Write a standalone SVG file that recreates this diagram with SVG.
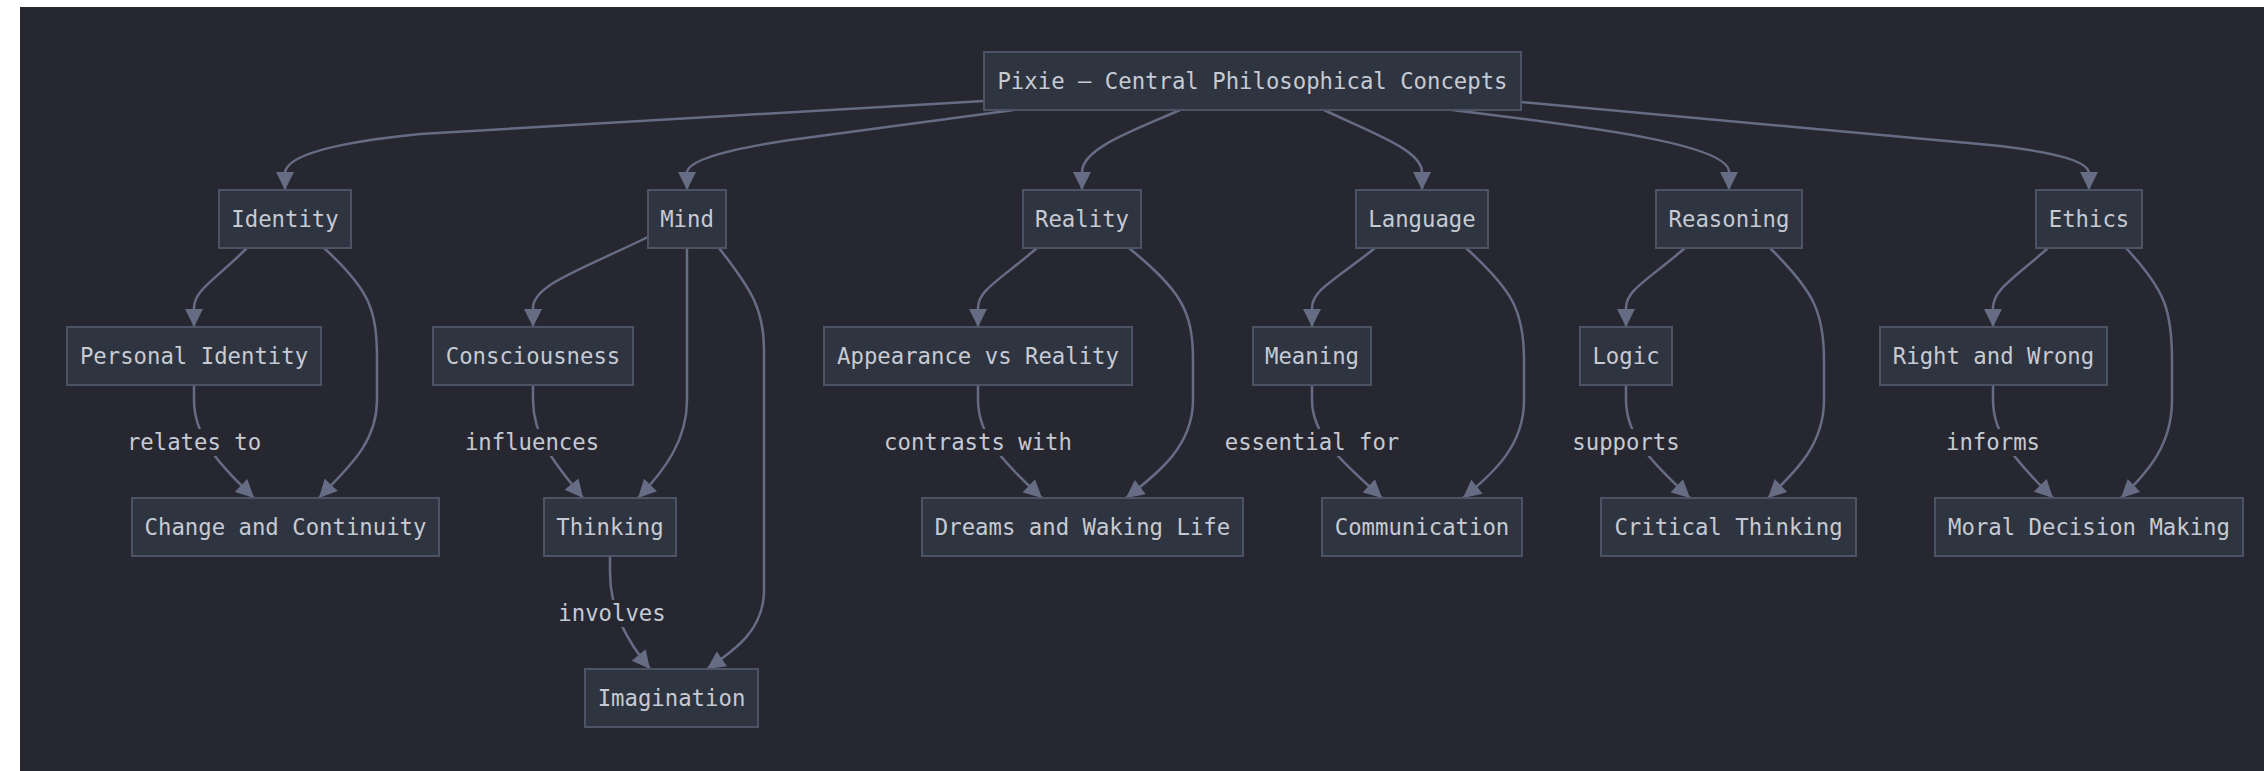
<svg xmlns="http://www.w3.org/2000/svg" width="2264" height="771" viewBox="0 0 2264 771">
<style>
.bg{fill:#272731}
.node rect{fill:#2f3441;stroke:#4c5364;stroke-width:2}
.node text,.lbl text{font-family:"DejaVu Sans Mono",monospace;font-size:22.3px;fill:#c6cad3;text-anchor:middle;dominant-baseline:central}
.edge{fill:none;stroke:#656c84;stroke-width:2.5}
.lbl rect{fill:#272731}
</style>
<defs>
<marker id="ah" viewBox="0 0 10 10" refX="10" refY="5" markerUnits="userSpaceOnUse" markerWidth="19" markerHeight="18" orient="auto">
<path d="M0,0 L10,5 L0,10 z" fill="#656c84"/>
</marker>
</defs>
<rect x="0" y="0" width="2264" height="771" fill="#ffffff"/>
<rect class="bg" x="20" y="7" width="2244" height="764"/>

<g id="connectors">
<path class="edge" marker-end="url(#ah)" d="M984,101 L420,134 Q290,147 285,172 L285,190"/>
<path class="edge" marker-end="url(#ah)" d="M1014,110 L790,140 Q690,155 687,172 L687,190"/>
<path class="edge" marker-end="url(#ah)" d="M1180,110 C1135,130 1082,148 1082,172 L1082,190"/>
<path class="edge" marker-end="url(#ah)" d="M1324,110 C1370,132 1422,150 1422,172 L1422,190"/>
<path class="edge" marker-end="url(#ah)" d="M1452,110 C1600,128 1729,145 1729,172 L1729,190"/>
<path class="edge" marker-end="url(#ah)" d="M1521,102 L1990,145 Q2085,155 2089,172 L2089,190"/>

<path class="edge" marker-end="url(#ah)" d="M247,248 C215,280 194,290 194,308 L194,327"/>
<path class="edge" marker-end="url(#ah)" d="M324,248 C370,290 377,310 377,360 L377,400 C377,445 345,470 319,498"/>
<path class="edge" marker-end="url(#ah)" d="M194,385 L194,400 C194,440 225,470 254,498"/>

<path class="edge" marker-end="url(#ah)" d="M648,237 C580,270 533,285 533,308 L533,327"/>
<path class="edge" marker-end="url(#ah)" d="M687,248 L687,400 C687,440 665,470 638,498"/>
<path class="edge" marker-end="url(#ah)" d="M719,248 C752,290 764,310 764,350 L764,590 C764,630 735,650 707,669"/>
<path class="edge" marker-end="url(#ah)" d="M533,385 L533,400 C533,440 560,470 583,498"/>
<path class="edge" marker-end="url(#ah)" d="M610,557 L610,572 C610,612 628,642 650,669"/>

<path class="edge" marker-end="url(#ah)" d="M1037,248 C1000,280 978,290 978,308 L978,327"/>
<path class="edge" marker-end="url(#ah)" d="M1129,248 C1180,290 1193,310 1193,360 L1193,400 C1193,445 1160,472 1126,498"/>
<path class="edge" marker-end="url(#ah)" d="M978,385 L978,400 C978,440 1012,470 1042,498"/>

<path class="edge" marker-end="url(#ah)" d="M1375,248 C1335,280 1312,290 1312,308 L1312,327"/>
<path class="edge" marker-end="url(#ah)" d="M1466,248 C1512,290 1524,310 1524,360 L1524,400 C1524,445 1495,472 1463,498"/>
<path class="edge" marker-end="url(#ah)" d="M1312,385 L1312,400 C1312,440 1352,470 1382,498"/>

<path class="edge" marker-end="url(#ah)" d="M1685,248 C1648,280 1626,290 1626,308 L1626,327"/>
<path class="edge" marker-end="url(#ah)" d="M1770,248 C1812,290 1824,310 1824,360 L1824,400 C1824,445 1795,472 1768,498"/>
<path class="edge" marker-end="url(#ah)" d="M1626,385 L1626,400 C1626,440 1660,470 1690,498"/>

<path class="edge" marker-end="url(#ah)" d="M2048,248 C2012,280 1993,290 1993,308 L1993,327"/>
<path class="edge" marker-end="url(#ah)" d="M2126,248 C2165,290 2172,310 2172,360 L2172,400 C2172,445 2148,472 2121,498"/>
<path class="edge" marker-end="url(#ah)" d="M1993,385 L1993,400 C1993,440 2025,470 2053,498"/>

<g class="lbl"><rect x="126" y="429" width="136" height="27"/><text x="194" y="442">relates to</text></g>
<g class="lbl"><rect x="464" y="429" width="136" height="27"/><text x="532" y="442">influences</text></g>
<g class="lbl"><rect x="558" y="600" width="108" height="27"/><text x="612" y="613">involves</text></g>
<g class="lbl"><rect x="882" y="429" width="192" height="27"/><text x="978" y="442">contrasts with</text></g>
<g class="lbl"><rect x="1223" y="429" width="178" height="27"/><text x="1312" y="442">essential for</text></g>
<g class="lbl"><rect x="1572" y="429" width="108" height="27"/><text x="1626" y="442">supports</text></g>
<g class="lbl"><rect x="1946" y="429" width="94" height="27"/><text x="1993" y="442">informs</text></g>
</g>

<g id="n-pixie" class="node"><rect x="984" y="52" width="537" height="58"/><text x="1252.5" y="81">Pixie – Central Philosophical Concepts</text></g>

<g id="n-identity" class="node"><rect x="219" y="190" width="132" height="58"/><text x="285" y="219">Identity</text></g>
<g id="n-mind" class="node"><rect x="648" y="190" width="78" height="58"/><text x="687" y="219">Mind</text></g>
<g id="n-reality" class="node"><rect x="1023" y="190" width="118" height="58"/><text x="1082" y="219">Reality</text></g>
<g id="n-language" class="node"><rect x="1356" y="190" width="132" height="58"/><text x="1422" y="219">Language</text></g>
<g id="n-reasoning" class="node"><rect x="1656" y="190" width="146" height="58"/><text x="1729" y="219">Reasoning</text></g>
<g id="n-ethics" class="node"><rect x="2036" y="190" width="106" height="58"/><text x="2089" y="219">Ethics</text></g>

<g id="n-personal" class="node"><rect x="67" y="327" width="254" height="58"/><text x="194" y="356">Personal Identity</text></g>
<g id="n-consciousness" class="node"><rect x="433" y="327" width="200" height="58"/><text x="533" y="356">Consciousness</text></g>
<g id="n-appearance" class="node"><rect x="824" y="327" width="308" height="58"/><text x="978" y="356">Appearance vs Reality</text></g>
<g id="n-meaning" class="node"><rect x="1253" y="327" width="118" height="58"/><text x="1312" y="356">Meaning</text></g>
<g id="n-logic" class="node"><rect x="1580" y="327" width="92" height="58"/><text x="1626" y="356">Logic</text></g>
<g id="n-right" class="node"><rect x="1880" y="327" width="227" height="58"/><text x="1993.5" y="356">Right and Wrong</text></g>

<g id="n-change" class="node"><rect x="132" y="498" width="307" height="58"/><text x="285.5" y="527">Change and Continuity</text></g>
<g id="n-thinking" class="node"><rect x="544" y="498" width="132" height="58"/><text x="610" y="527">Thinking</text></g>
<g id="n-dreams" class="node"><rect x="922" y="498" width="321" height="58"/><text x="1082.5" y="527">Dreams and Waking Life</text></g>
<g id="n-communication" class="node"><rect x="1322" y="498" width="200" height="58"/><text x="1422" y="527">Communication</text></g>
<g id="n-critical" class="node"><rect x="1601" y="498" width="255" height="58"/><text x="1728.5" y="527">Critical Thinking</text></g>
<g id="n-moral" class="node"><rect x="1935" y="498" width="308" height="58"/><text x="2089" y="527">Moral Decision Making</text></g>

<g id="n-imagination" class="node"><rect x="585" y="669" width="173" height="58"/><text x="671.5" y="698">Imagination</text></g>
</svg>
